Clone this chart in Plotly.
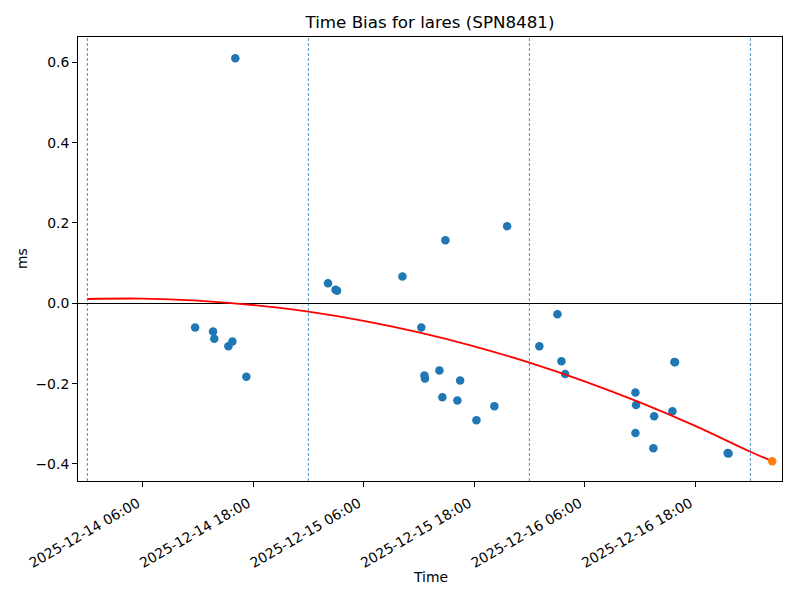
import plotly.graph_objects as go

# Observation times and time-bias values (ms)
obs_times = [
    "2025-12-14 11:42", "2025-12-14 13:39", "2025-12-14 13:47", "2025-12-14 15:19",
    "2025-12-14 15:45", "2025-12-14 16:04", "2025-12-14 17:16",
    "2025-12-15 02:08", "2025-12-15 02:57", "2025-12-15 03:07", "2025-12-15 10:13",
    "2025-12-15 12:16", "2025-12-15 12:36", "2025-12-15 12:40", "2025-12-15 14:14",
    "2025-12-15 14:33", "2025-12-15 14:53", "2025-12-15 16:11", "2025-12-15 16:29",
    "2025-12-15 18:15", "2025-12-15 20:12", "2025-12-15 21:35",
    "2025-12-16 01:05", "2025-12-16 03:03", "2025-12-16 03:29", "2025-12-16 03:53",
    "2025-12-16 11:31", "2025-12-16 11:35", "2025-12-16 11:31", "2025-12-16 13:28",
    "2025-12-16 13:33", "2025-12-16 15:32", "2025-12-16 15:45", "2025-12-16 15:49",
    "2025-12-16 21:32", "2025-12-16 21:38",
]
obs_values = [
    -0.060, -0.070, -0.088, -0.107,
    -0.095, 0.610, -0.183,
    0.050, 0.034, 0.031, 0.067,
    -0.060, -0.180, -0.187, -0.167,
    -0.234, 0.157, -0.242, -0.192,
    -0.291, -0.256, 0.192,
    -0.107, -0.027, -0.144, -0.176,
    -0.222, -0.253, -0.323, -0.361,
    -0.281, -0.269, -0.146, -0.147,
    -0.373, -0.374,
]

# Predicted point
pred_time = ["2025-12-17 02:22"]
pred_value = [-0.393]

# Fitted trend curve
fit_times = [
    "2025-12-14 00:00", "2025-12-14 06:00", "2025-12-14 12:00", "2025-12-14 18:00",
    "2025-12-15 00:00", "2025-12-15 06:00", "2025-12-15 12:00", "2025-12-15 18:00",
    "2025-12-16 00:00", "2025-12-16 06:00", "2025-12-16 12:00", "2025-12-16 18:00",
    "2025-12-17 00:00", "2025-12-17 02:22",
]
fit_values = [
    0.0107, 0.0117, 0.0067, -0.0042,
    -0.0207, -0.0438, -0.0725, -0.1071,
    -0.1477, -0.1942, -0.2467, -0.3052,
    -0.3695, -0.393,
]

# Day boundaries (dashed vertical lines)
midnights = ["2025-12-14 00:00", "2025-12-15 00:00", "2025-12-16 00:00", "2025-12-17 00:00"]

tick_vals = ["2025-12-14 06:00", "2025-12-14 18:00", "2025-12-15 06:00",
             "2025-12-15 18:00", "2025-12-16 06:00", "2025-12-16 18:00"]
tick_text = ["2025-12-14 06:00", "2025-12-14 18:00", "2025-12-15 06:00",
             "2025-12-15 18:00", "2025-12-16 06:00", "2025-12-16 18:00"]
y_ticks = [-0.4, -0.2, 0.0, 0.2, 0.4, 0.6]

FONT = "DejaVu Sans"
TICK = 13.9

fig = go.Figure()

for m in midnights:
    fig.add_shape(type="line", xref="x", yref="paper", x0=m, x1=m, y0=0, y1=1,
                  line=dict(color="#1f77b4", width=0.8, dash="3px,2px"), layer="below")

fig.add_trace(go.Scatter(x=obs_times, y=obs_values, mode="markers",
                         marker=dict(color="#1f77b4", size=8.5, line=dict(width=0)),
                         showlegend=False))
fig.add_trace(go.Scatter(x=fit_times, y=fit_values, mode="lines", line_shape="spline",
                         line=dict(color="red", width=1.8), showlegend=False))
fig.add_trace(go.Scatter(x=pred_time, y=pred_value, mode="markers",
                         marker=dict(color="#ff7f0e", size=8.5, line=dict(width=0)),
                         showlegend=False))

fig.update_layout(
    width=800, height=600,
    margin=dict(l=78, r=18, t=37, b=119),
    paper_bgcolor="white", plot_bgcolor="white",
    font=dict(family=FONT, size=TICK, color="black"),
    title=dict(text="Time Bias for lares (SPN8481)", x=0.5375, xanchor="center",
               y=1 - 22 / 600, yanchor="middle", yref="container",
               font=dict(family=FONT, size=16.7, color="black")),
    xaxis=dict(range=["2025-12-13 22:59", "2025-12-17 03:26"],
               tickmode="array", tickvals=tick_vals, ticktext=tick_text,
               tickangle=-30, ticks="outside", ticklen=5, tickcolor="black",
               ticklabelshift=-5, ticklabelstandoff=3,
               showline=True, mirror=True, linecolor="black", linewidth=1,
               showgrid=False, zeroline=False, automargin=False,
               tickfont=dict(family=FONT, size=TICK, color="black")),
    yaxis=dict(range=[-0.4424, 0.663], tickmode="array", tickvals=y_ticks,
               tickformat=".1f", ticks="outside", ticklen=5, tickcolor="black",
               showline=True, mirror=True, linecolor="black", linewidth=1,
               showgrid=False, zeroline=True, zerolinecolor="black", zerolinewidth=1,
               automargin=False,
               tickfont=dict(family=FONT, size=TICK, color="black")),
    annotations=[
        dict(text="Time", xref="paper", yref="paper", x=0.5, y=-(577 - 481) / 444,
             xanchor="center", yanchor="middle", showarrow=False,
             font=dict(family=FONT, size=TICK, color="black")),
        dict(text="ms", xref="paper", yref="paper", x=-(78 - 22) / 704, y=0.5,
             xanchor="center", yanchor="middle", showarrow=False, textangle=-90,
             font=dict(family=FONT, size=TICK, color="black")),
    ],
)

fig.write_html("out.html", config={"displayModeBar": False},
               post_script="document.body.style.margin='0';")
